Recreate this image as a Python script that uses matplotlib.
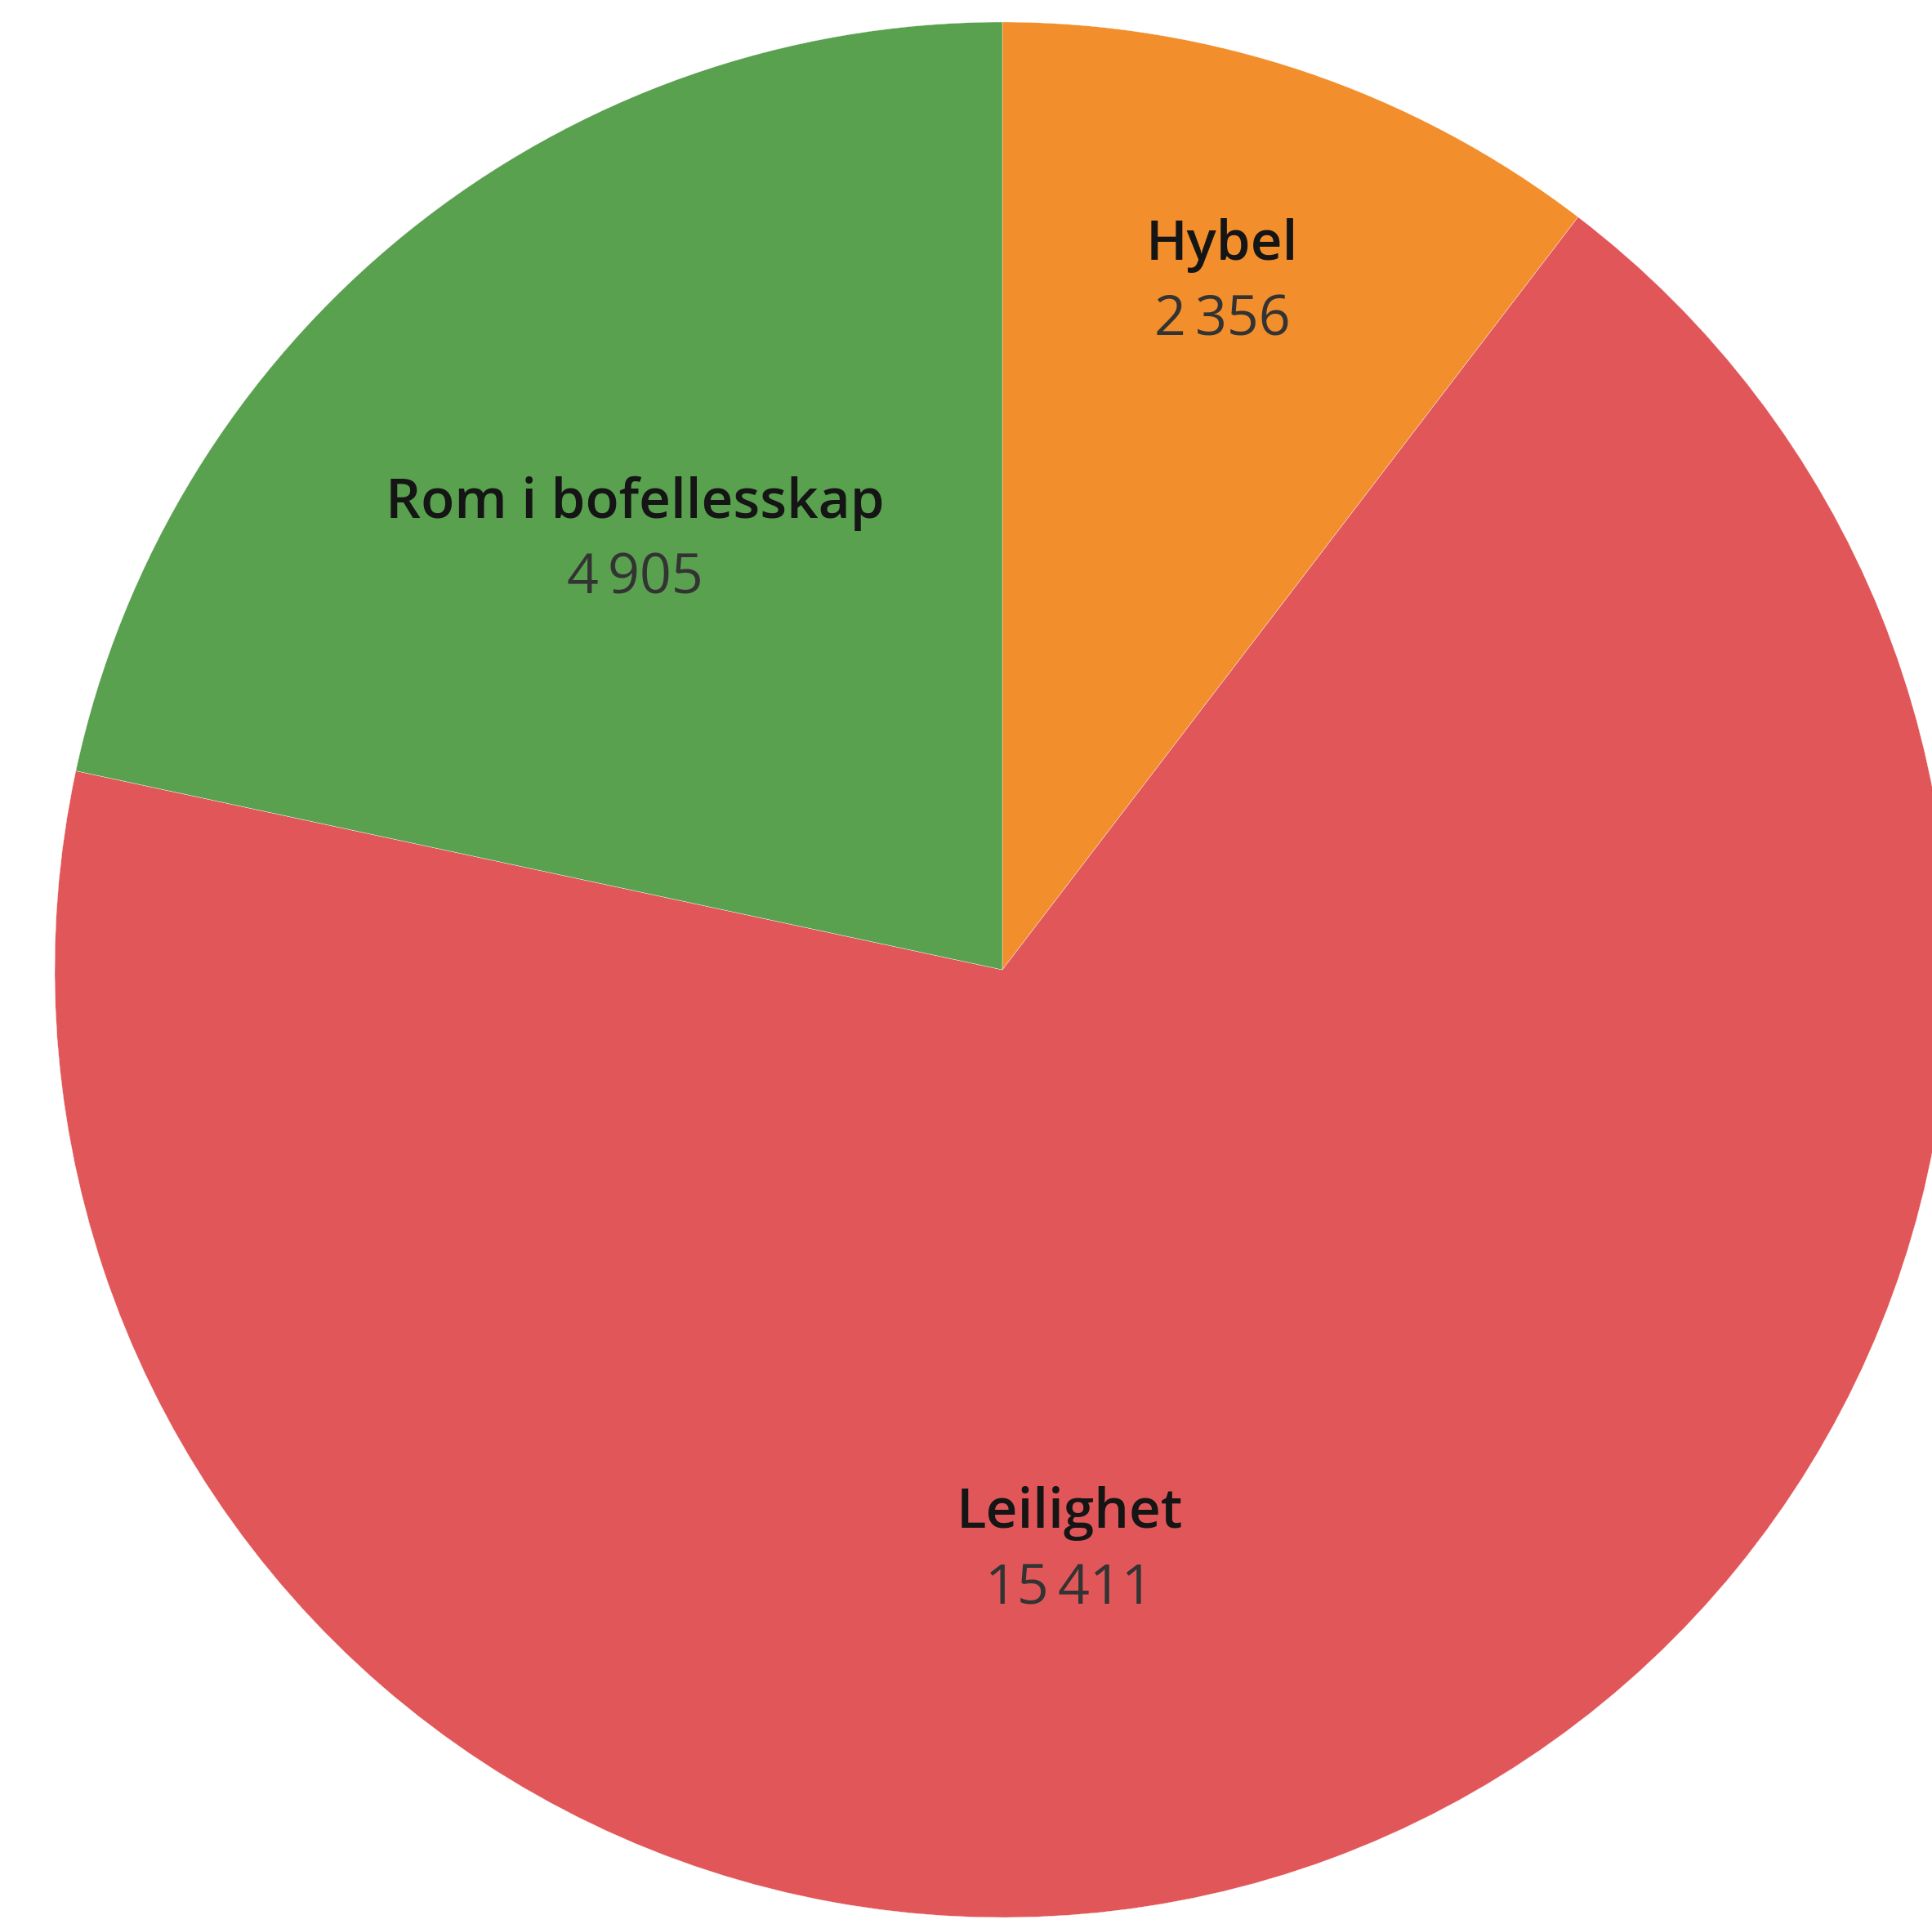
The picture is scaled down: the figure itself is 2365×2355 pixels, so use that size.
import matplotlib
matplotlib.use("Agg")
import matplotlib.pyplot as plt

# housing type counts, drawn clockwise from 12 o'clock
categories = ["Hybel", "Leilighet", "Rom i bofellesskap"]
counts = [2356, 15411, 4905]
colors = ["#F28E2B", "#E15759", "#59A14F"]

W, H = 2365, 2355
CX, CY, R = 1227, H - 1187, 1160
# label anchors in pixels (x, y from top), name sits above the number
LABEL_POS = {"Hybel": (1496, 300), "Leilighet": (1309, 1853),
             "Rom i bofellesskap": (777, 616)}
LINE_GAP = 93

plt.rcParams["font.family"] = ["Open Sans", "DejaVu Sans"]

fig = plt.figure(figsize=(W / 100, H / 100), dpi=100)
ax = fig.add_axes([0, 0, 1, 1])
ax.pie(counts, colors=colors, startangle=90, counterclock=False,
       center=(CX, CY), radius=R,
       wedgeprops=dict(edgecolor="white", linewidth=0.25))
ax.set_xlim(0, W)
ax.set_ylim(0, H)
ax.set_aspect("equal")
ax.axis("off")


def fmt(v):
    return f"{v:,}".replace(",", "\u2009")


for name, val in zip(categories, counts):
    px, py = LABEL_POS[name]
    ax.text(px, H - py, name, ha="center", va="center", fontsize=48.5,
            fontweight="semibold", color="#151515")
    ax.text(px, H - py - LINE_GAP, fmt(val), ha="center", va="center",
            fontsize=49, fontweight="normal", color="#333333")

fig.savefig("out.png", dpi=100, facecolor="white")
